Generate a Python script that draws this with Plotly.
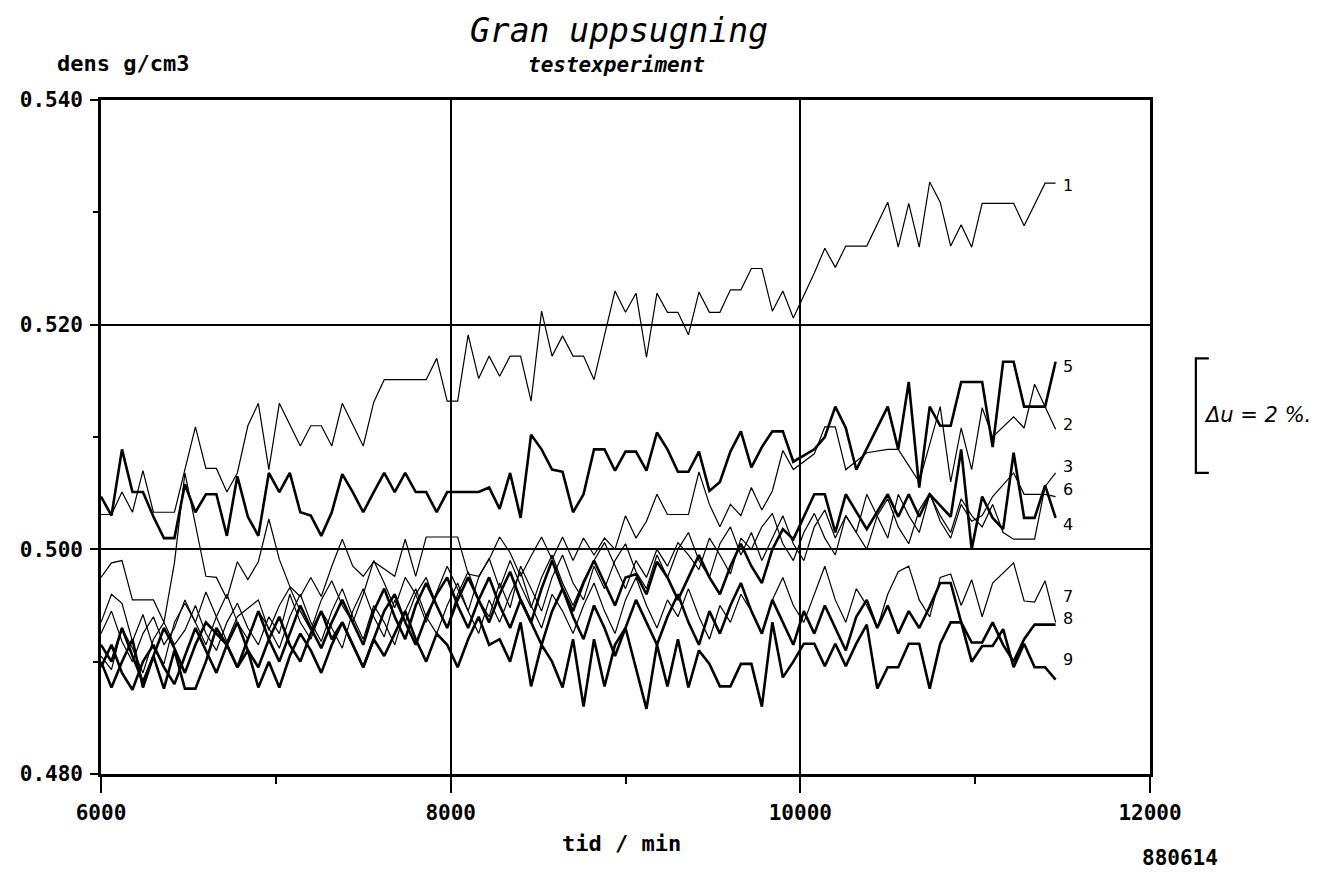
import plotly.graph_objects as go

# ---- data (sample index -> 60 min steps from 6000 min) ----
T0 = 6000
STEP = 60

S1 = [(0,.5031),(1,.5031),(2,.5051),(3,.5033),(4,.5070),(5,.5033),(7,.5033),(9,.5109),(10,.5072),(11,.5072),
      (12,.5051),(13,.5068),(14,.5110),(15,.5130),(16,.5071),(17,.5130),(19,.5092),(20,.5110),(21,.5110),(22,.5092),
      (23,.5130),(25,.5092),(26,.5131),(27,.5151),(31,.5151),(32,.5170),(33,.5132),(34,.5132),(35,.5191),(36,.5152),
      (37,.5172),(38,.5154),(39,.5172),(40,.5172),(41,.5132),(42,.5212),(43,.5172),(44,.5190),(45,.5172),(46,.5172),
      (47,.5151),(49,.5230),(50,.5211),(51,.5228),(52,.5171),(53,.5228),(54,.5211),(55,.5211),(56,.5191),(57,.5229),
      (58,.5211),(59,.5211),(60,.5231),(61,.5231),(62,.5250),(63,.5250),(64,.5212),(65,.5230),(66,.5206),(68,.5246),
      (69,.5268),(70,.5251),(71,.5270),(73,.5270),(75,.5309),(76,.5269),(77,.5308),(78,.5269),(79,.5327),(80,.5309),
      (81,.5270),(82,.5289),(83,.5269),(84,.5308),(87,.5308),(88,.5288),(90,.5326),(91,.5326)]

S2 = [(0,.4975),(1,.4988),(2,.4990),(3,.4955),(5,.4955),(6,.4935),(7,.4988),(8,.5068),(10,.4976),(11,.4975),
      (12,.4956),(13,.4989),(14,.4973),(15,.4989),(16,.5027),(17,.4991),(18,.4967),(19,.4958),(20,.4975),(21,.4958),
      (22,.4985),(23,.5009),(24,.4985),(25,.4976),(26,.4989),(28,.4976),(29,.5009),(30,.4976),(31,.5011),(34,.5011),
      (35,.4978),(36,.4976),(37,.4991),(38,.5011),(39,.4997),(40,.4976),(41,.4994),(42,.5011),(43,.4991),(44,.5011),
      (45,.4990),(46,.5010),(47,.4995),(48,.5010),(49,.5000),(50,.5030),(51,.5010),(52,.5025),(53,.5049),(54,.5031),
      (56,.5031),(57,.5069),(58,.5040),(59,.5020),(60,.5040),(61,.5030),(62,.5055),(63,.5035),(64,.5052),(65,.5088),
      (66,.5071),(68,.5085),(69,.5109),(70,.5109),(71,.5071),(73,.5086),(75,.5089),(76,.5089),(78,.5060),(80,.5127),
      (81,.5060),(82,.5108),(83,.5071),(84,.5126),(85,.5100),(87,.5118),(88,.5108),(89,.5147),(91,.5107)]

S3 = [(0,.4935),(1,.4960),(2,.4952),(3,.4918),(4,.4942),(5,.4912),(6,.4898),(7,.4935),(8,.4952),(9,.4935),
      (10,.4962),(11,.4940),(12,.4918),(13,.4940),(15,.4955),(16,.4928),(17,.4950),(18,.4966),(19,.4945),(20,.4928),
      (21,.4955),(22,.4972),(23,.4950),(24,.4935),(25,.4960),(26,.4990),(27,.4970),(28,.4948),(29,.4975),(30,.4960),
      (31,.4935),(32,.4962),(33,.4985),(34,.4965),(35,.4945),(36,.4975),(37,.4992),(38,.4965),(39,.4990),(40,.4968),
      (41,.4948),(42,.4975),(43,.4995),(44,.4970),(45,.4950),(46,.4972),(47,.4990),(48,.5006),(49,.4985),(50,.4965),
      (51,.4990),(52,.4975),(53,.5000),(54,.4985),(55,.5006),(56,.4995),(57,.4982),(58,.5010),(59,.4995),(60,.4978),
      (61,.5010),(62,.5000),(63,.5020),(64,.5032),(65,.5005),(66,.4990),(67,.5015),(68,.5032),(69,.5010),(70,.4995),
      (71,.5030),(72,.5015),(73,.5049),(74,.5030),(75,.5010),(76,.5049),(77,.5030),(78,.5015),(79,.5049),(80,.5030),
      (81,.5015),(82,.5045),(83,.5030),(84,.5020),(85,.5040),(86,.5015),(87,.5009),(89,.5009),(90,.5056),(91,.5068)]

S4 = [(0,.4915),(1,.4900),(2,.4930),(3,.4905),(4,.4882),(5,.4905),(6,.4930),(7,.4912),(8,.4890),(9,.4915),
      (10,.4935),(12,.4915),(13,.4895),(14,.4920),(15,.4945),(16,.4920),(17,.4900),(18,.4925),(19,.4950),(20,.4930),
      (21,.4912),(22,.4935),(23,.4955),(24,.4935),(25,.4915),(26,.4945),(27,.4965),(28,.4940),(29,.4920),(30,.4950),
      (31,.4970),(32,.4950),(33,.4930),(34,.4955),(35,.4975),(36,.4955),(37,.4935),(38,.4960),(39,.4980),(40,.4955),
      (41,.4935),(42,.4965),(43,.4990),(44,.4965),(45,.4945),(46,.4970),(47,.4990),(48,.4970),(49,.4950),(50,.4975),
      (51,.4978),(52,.4960),(53,.4989),(54,.4975),(55,.4955),(56,.4975),(57,.4995),(58,.4975),(59,.4960),(60,.4985),
      (61,.5005),(62,.4985),(63,.4970),(64,.5000),(65,.5018),(66,.5009),(68,.5049),(69,.5049),(70,.5015),(71,.5049),
      (73,.5018),(75,.5049),(76,.5029),(77,.5049),(78,.5029),(79,.5049),(81,.5029),(82,.5089),(83,.5000),(84,.5047),
      (85,.5028),(86,.5018),(87,.5086),(88,.5028),(89,.5028),(90,.5057),(91,.5028)]

S5 = [(0,.5047),(1,.5030),(2,.5089),(3,.5051),(4,.5051),(5,.5029),(6,.5010),(7,.5010),(8,.5058),(9,.5033),
      (10,.5049),(11,.5049),(12,.5012),(13,.5065),(14,.5029),(15,.5012),(16,.5068),(17,.5051),(18,.5068),(19,.5033),
      (20,.5030),(21,.5012),(22,.5033),(23,.5067),(24,.5051),(25,.5033),(26,.5051),(27,.5068),(28,.5051),(29,.5068),
      (30,.5051),(31,.5051),(32,.5033),(33,.5051),(36,.5051),(37,.5055),(38,.5036),(39,.5068),(40,.5028),(41,.5102),
      (42,.5089),(43,.5071),(44,.5069),(45,.5033),(46,.5049),(47,.5089),(48,.5089),(49,.5070),(50,.5087),(51,.5087),
      (52,.5070),(53,.5104),(54,.5089),(55,.5069),(56,.5069),(57,.5087),(58,.5052),(59,.5060),(60,.5087),(61,.5105),
      (62,.5073),(63,.5091),(64,.5105),(65,.5105),(66,.5078),(68,.5089),(69,.5100),(70,.5127),(71,.5108),(72,.5071),
      (75,.5127),(76,.5089),(77,.5149),(78,.5055),(79,.5127),(80,.5110),(81,.5110),(82,.5149),(84,.5149),(85,.5091),
      (86,.5167),(87,.5167),(88,.5127),(90,.5127),(91,.5167)]

S6 = [(0,.4905),(1,.4893),(2,.4930),(3,.4912),(4,.4890),(5,.4920),(6,.4935),(7,.4915),(8,.4928),(9,.4950),
      (10,.4925),(11,.4910),(12,.4935),(13,.4952),(14,.4930),(15,.4915),(16,.4940),(17,.4925),(18,.4960),(19,.4935),
      (20,.4920),(21,.4945),(22,.4930),(23,.4912),(24,.4945),(25,.4965),(26,.4940),(27,.4922),(28,.4955),(29,.4935),
      (30,.4960),(31,.4975),(32,.4950),(33,.4930),(34,.4960),(35,.4980),(36,.4955),(37,.4940),(38,.4970),(39,.4948),
      (40,.4985),(41,.4965),(42,.4945),(43,.4975),(44,.4995),(45,.4970),(46,.4955),(47,.4985),(48,.4965),(49,.4990),
      (50,.5005),(51,.4980),(52,.4965),(53,.4995),(54,.4975),(55,.5000),(56,.5015),(57,.4990),(58,.4975),(59,.5005),
      (60,.5020),(61,.4995),(62,.5015),(63,.4990),(64,.5010),(65,.5030),(66,.5005),(67,.4990),(68,.5020),(69,.5035),
      (70,.5010),(71,.5030),(72,.5015),(73,.5000),(74,.5030),(75,.5045),(76,.5020),(77,.5005),(78,.5035),(79,.5050),
      (80,.5025),(81,.5010),(82,.5040),(83,.5025),(84,.5030),(85,.5047),(87,.5068),(88,.5049),(90,.5049),(91,.5047)]

S7 = [(0,.4925),(1,.4945),(2,.4918),(3,.4900),(4,.4925),(5,.4940),(6,.4915),(7,.4930),(8,.4955),(9,.4935),
      (10,.4915),(11,.4940),(12,.4960),(13,.4935),(14,.4920),(15,.4945),(16,.4930),(17,.4912),(18,.4940),(19,.4960),
      (20,.4935),(21,.4918),(22,.4945),(23,.4965),(24,.4940),(25,.4920),(26,.4950),(27,.4935),(28,.4915),(29,.4945),
      (30,.4965),(31,.4940),(32,.4925),(33,.4950),(34,.4970),(35,.4945),(36,.4925),(37,.4955),(38,.4935),(39,.4960),
      (40,.4980),(41,.4950),(42,.4930),(43,.4960),(44,.4945),(45,.4925),(46,.4950),(47,.4970),(48,.4945),(49,.4925),
      (50,.4955),(51,.4975),(52,.4950),(53,.4930),(54,.4955),(55,.4940),(56,.4965),(57,.4940),(58,.4920),(59,.4950),
      (60,.4935),(61,.4960),(62,.4945),(63,.4925),(64,.4955),(65,.4975),(66,.4950),(67,.4935),(68,.4960),(69,.4985),
      (70,.4955),(71,.4935),(72,.4965),(73,.4950),(74,.4930),(75,.4960),(76,.4980),(77,.4985),(78,.4955),(79,.4940),
      (80,.4975),(81,.4978),(82,.4950),(83,.4973),(84,.4940),(85,.4970),(87,.4988),(88,.4954),(89,.4953),(90,.4972),
      (91,.4935)]

S8 = [(0,.4895),(1,.4915),(2,.4890),(3,.4875),(4,.4900),(5,.4915),(6,.4895),(7,.4880),(8,.4905),(9,.4930),
      (10,.4910),(11,.4890),(12,.4915),(13,.4935),(14,.4910),(15,.4895),(16,.4920),(17,.4940),(18,.4915),(19,.4900),
      (20,.4925),(21,.4945),(22,.4920),(23,.4935),(24,.4915),(25,.4895),(26,.4920),(27,.4945),(28,.4960),(29,.4935),
      (30,.4915),(31,.4940),(32,.4960),(33,.4975),(34,.4950),(35,.4930),(36,.4955),(37,.4975),(38,.4950),(39,.4930),
      (40,.4955),(41,.4935),(42,.4915),(43,.4945),(44,.4965),(45,.4940),(46,.4920),(47,.4950),(48,.4930),(49,.4905),
      (50,.4930),(51,.4955),(52,.4935),(53,.4915),(54,.4940),(55,.4960),(56,.4935),(57,.4915),(58,.4945),(59,.4925),
      (60,.4950),(61,.4970),(62,.4945),(63,.4925),(64,.4955),(65,.4935),(66,.4915),(67,.4945),(68,.4925),(69,.4950),
      (70,.4930),(71,.4910),(72,.4940),(73,.4955),(74,.4930),(75,.4950),(76,.4925),(77,.4945),(78,.4930),(79,.4949),
      (80,.4970),(81,.4970),(82,.4935),(83,.4917),(84,.4917),(85,.4935),(86,.4915),(87,.4900),(88,.4920),(89,.4933),
      (91,.4933)]

S9 = [(0,.4900),(1,.4877),(2,.4900),(3,.4920),(4,.4877),(5,.4905),(6,.4876),(7,.4910),(8,.4876),(9,.4876),
      (10,.4900),(11,.4930),(12,.4915),(13,.4895),(14,.4910),(15,.4877),(16,.4900),(17,.4877),(18,.4905),(19,.4925),
      (20,.4910),(21,.4890),(22,.4915),(23,.4935),(24,.4915),(25,.4895),(26,.4920),(27,.4905),(28,.4925),(29,.4945),
      (30,.4920),(31,.4900),(32,.4925),(33,.4915),(34,.4895),(35,.4920),(36,.4940),(37,.4915),(38,.4920),(39,.4900),
      (40,.4935),(41,.4878),(42,.4915),(43,.4900),(44,.4877),(45,.4920),(46,.4860),(47,.4920),(48,.4878),(49,.4915),
      (50,.4930),(51,.4895),(52,.4858),(53,.4915),(54,.4878),(55,.4920),(56,.4877),(57,.4910),(58,.4898),(59,.4878),
      (60,.4878),(61,.4898),(62,.4898),(63,.4860),(64,.4935),(65,.4886),(66,.4900),(67,.4916),(68,.4916),(69,.4896),
      (70,.4916),(71,.4896),(72,.4916),(73,.4933),(74,.4876),(75,.4895),(76,.4895),(77,.4916),(78,.4916),(79,.4876),
      (80,.4916),(81,.4935),(82,.4935),(83,.4900),(84,.4914),(85,.4914),(86,.4929),(87,.4895),(88,.4916),(89,.4895),
      (90,.4895),(91,.4884)]

SERIES = [("1", S1, "thin"), ("2", S2, "thin"), ("3", S3, "thin"), ("4", S4, "thick"), ("5", S5, "thick"),
          ("6", S6, "thin"), ("7", S7, "thin"), ("8", S8, "thick"), ("9", S9, "thick")]

# end labels (handwritten numbers) : label, value position
END_LABELS = [("1", .5324), ("5", .5163), ("2", .5111), ("3", .5074), ("6", .5053), ("4", .5022),
              ("7", .4958), ("8", .4938), ("9", .4902)]
END_LABEL_T = 11530

X_TICKS = [6000, 8000, 10000, 12000]
Y_TICKS = [0.480, 0.500, 0.520, 0.540]

OFF = 8                      # page body margin of the browser
W, H = 1327 - OFF, 872 - OFF
L, R, T, B = 98 - OFF, 1150 - OFF, 100 - OFF, 774 - OFF


def px(x):
    return (x - OFF - L) / (R - L)


def py(y):
    return (B - (y - OFF)) / (B - T)


fig = go.Figure()
for name, pts, style in SERIES:
    tt = [T0 + STEP * i for i, _ in pts]
    vv = [v for _, v in pts]
    fig.add_trace(go.Scatter(x=tt, y=vv, mode="lines", name=name,
                             line=dict(color="black", width=2.6 if style == "thick" else 1.2),
                             showlegend=False, hoverinfo="skip"))

tickfont = dict(family="DejaVu Sans Mono", size=21, color="black", weight="bold")
fig.update_xaxes(range=[6000, 12000], tickvals=X_TICKS, ticktext=[str(v) for v in X_TICKS],
                 showgrid=True, gridcolor="black", gridwidth=2.2, zeroline=False,
                 showline=True, linecolor="black", linewidth=2.6, mirror=True,
                 ticks="outside", ticklen=16, tickwidth=2.2, tickcolor="black",
                 tickfont=tickfont, ticklabelstandoff=2,
                 minor=dict(dtick=1000, tick0=7000, ticks="outside", ticklen=7, tickwidth=1.6,
                            tickcolor="black", showgrid=False))
fig.update_yaxes(range=[0.480, 0.540], tickvals=Y_TICKS, ticktext=["%.3f" % v for v in Y_TICKS],
                 showgrid=True, gridcolor="black", gridwidth=2.2, zeroline=False,
                 showline=True, linecolor="black", linewidth=2.6, mirror=True,
                 ticks="outside", ticklen=8, tickwidth=2.2, tickcolor="black",
                 tickfont=tickfont, ticklabelstandoff=3,
                 minor=dict(dtick=0.01, tick0=0.49, ticks="outside", ticklen=5, tickwidth=1.6,
                            tickcolor="black", showgrid=False))

ann = []
ann.append(dict(text="<i>Gran uppsugning</i>", x=px(617), y=py(30), xref="paper", yref="paper",
                showarrow=False, xanchor="center", yanchor="middle",
                font=dict(family="DejaVu Sans Mono", size=33, color="black")))
ann.append(dict(text="<b><i>testexperiment</i></b>", x=px(615), y=py(65), xref="paper", yref="paper",
                showarrow=False, xanchor="center", yanchor="middle",
                font=dict(family="DejaVu Sans Mono", size=21, color="black")))
ann.append(dict(text="<b>dens g/cm3</b>", x=px(120), y=py(63), xref="paper", yref="paper",
                showarrow=False, xanchor="center", yanchor="middle",
                font=dict(family="DejaVu Sans Mono", size=22, color="black")))
ann.append(dict(text="<b>tid / min</b>", x=px(620), y=py(843), xref="paper", yref="paper",
                showarrow=False, xanchor="center", yanchor="middle",
                font=dict(family="DejaVu Sans Mono", size=22, color="black")))
ann.append(dict(text="<b>880614</b>", x=px(1180), y=py(858), xref="paper", yref="paper",
                showarrow=False, xanchor="center", yanchor="middle",
                font=dict(family="DejaVu Sans Mono", size=21, color="black")))
for lab, yv in END_LABELS:
    ann.append(dict(text=lab, x=END_LABEL_T, y=yv, xref="x", yref="y", showarrow=False,
                    xanchor="center", yanchor="middle",
                    font=dict(family="DejaVu Sans", size=16, color="black")))
ann.append(dict(text="<i>\u0394u = 2 %.</i>", x=px(1258), y=0.5120, xref="paper", yref="y",
                showarrow=False, xanchor="center", yanchor="middle",
                font=dict(family="DejaVu Sans", size=21, color="black")))

shapes = [dict(type="path", xref="paper", yref="y",
               path="M %f,0.5170 L %f,0.5170 L %f,0.5068 L %f,0.5068" % (px(1209), px(1196), px(1196), px(1209)),
               line=dict(color="black", width=2.2))]

fig.update_layout(width=W, height=H, margin=dict(l=L, r=W - R, t=T, b=H - B, pad=0),
                  paper_bgcolor="white", plot_bgcolor="white",
                  annotations=ann, shapes=shapes, showlegend=False)

fig.write_html("out.html", config={"displayModeBar": False})
